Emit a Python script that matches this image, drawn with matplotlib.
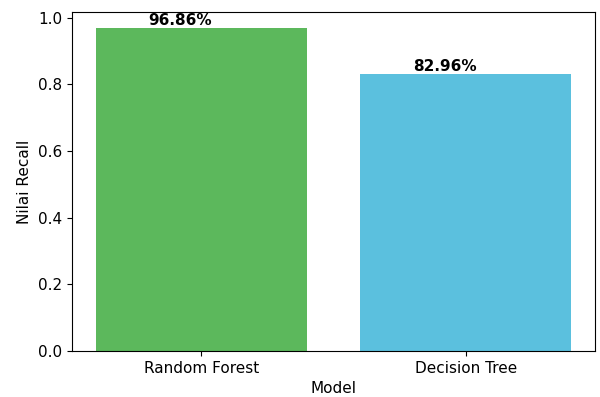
import matplotlib
matplotlib.use("Agg")
import matplotlib.pyplot as plt

models = ["Random Forest", "Decision Tree"]
recall = [0.9686, 0.8296]
colors = ["#5cb85c", "#5bc0de"]

fig, ax = plt.subplots(figsize=(6, 3.97), dpi=100)
bars = ax.bar(models, recall, color=colors)
for i, val in enumerate(recall):
    ax.text(i - 0.08, val, f"{val * 100:.2f}%",
            ha="center", va="bottom", fontsize=11, fontweight="bold")

ax.set_xlabel("Model", fontsize=11)
ax.set_ylabel("Nilai Recall", fontsize=11)
ax.tick_params(labelsize=11)
fig.subplots_adjust(left=0.12, right=0.992, top=0.970, bottom=0.116)
plt.savefig("out.png")
